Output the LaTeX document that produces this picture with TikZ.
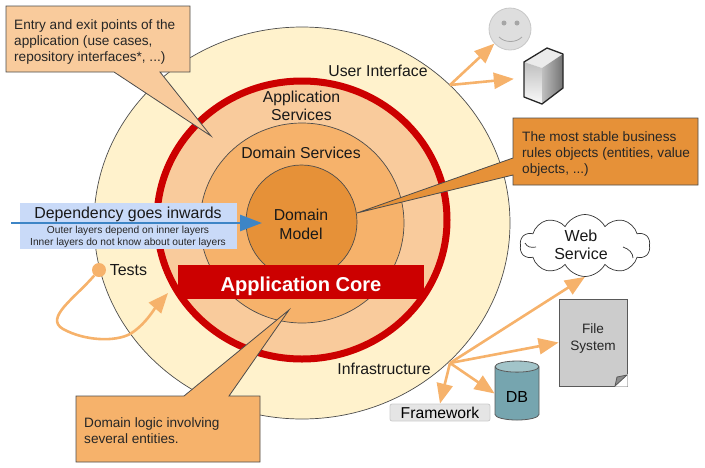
\documentclass[tikz,border=0pt]{standalone}
\usepackage{fontspec}
\setmainfont{Liberation Sans}
\usetikzlibrary{arrows.meta,shapes.geometric,shapes.symbols}
\definecolor{coreyellow}{HTML}{FFF2CC}
\definecolor{corepeach}{HTML}{F9CB9C}
\definecolor{coreorange}{HTML}{F6B26B}
\definecolor{coredark}{HTML}{E69138}
\definecolor{corered}{HTML}{CC0000}
\definecolor{noteblue}{HTML}{C9DAF8}
\definecolor{arrowblue}{HTML}{3D85C6}
\definecolor{dbteal}{HTML}{76A5AF}
\definecolor{dbtop}{HTML}{A2C4C9}
\begin{document}
\begin{tikzpicture}[
        x=1pt, y=-1pt,
        layer/.style={ellipse, draw=black!70, line width=0.7pt, inner sep=0pt},
        layer_label/.style={font=\fontsize{15.8}{18.5}\selectfont, align=center, text=black!90, inner sep=0pt},
        callout_box/.style={draw=black!70, line width=0.8pt},
        callout_text/.style={font=\fontsize{13.6}{16}\selectfont, align=left, anchor=west, inner sep=0pt, text=black!85},
        flow/.style={draw=coreorange, line width=2.6pt, -{Triangle[length=20pt,width=16pt]}},
        small_note/.style={font=\fontsize{10.2}{12}\selectfont, text=black!85, inner sep=0pt}
    ]
        \useasboundingbox (0,0) rectangle (705,467);

        % Concentric layers
        \node[layer, fill=coreyellow, minimum width=416pt, minimum height=392pt] (user_interface) at (302,223) {};
        \node[layer, draw=corered, line width=7pt, fill=corepeach, minimum width=290pt, minimum height=278pt] (app_services) at (302,220) {};
        \node[layer, fill=coreorange, minimum width=204pt, minimum height=200pt] (domain_services) at (302,223) {};
        \node[layer, fill=coredark, minimum width=111pt, minimum height=114pt] (domain_model) at (301.5,222) {};

        % Core band
        \node[fill=corered, minimum width=246pt, minimum height=34pt, inner sep=0pt, text=white,
              font=\fontsize{20.1}{22}\selectfont\bfseries, text height=19pt, text depth=0pt] (app_core) at (301,282) {Application Core};

        % Layer labels
        \node[layer_label] (ui_label) at (378,71) {User Interface};
        \node[layer_label] (as_label) at (301.5,106) {Application\\Services};
        \node[layer_label] (ds_label) at (301,153) {Domain Services};
        \node[layer_label, font=\fontsize{15.8}{19}\selectfont] (dm_label) at (301,224) {Domain\\Model};
        \node[layer_label] (inf_label) at (384,369) {Infrastructure};

        % Dependency note
        \node[fill=noteblue, minimum width=217pt, minimum height=46pt, inner sep=0pt] (dep_box) at (128.5,226) {};
        \node[font=\fontsize{15.9}{18}\selectfont, text=black!90, inner sep=0pt] (dep_title) at (128,214) {Dependency goes inwards};
        \node[small_note] (dep_outer) at (128,231) {Outer layers depend on inner layers};
        \node[small_note] (dep_inner) at (128,243) {Inner layers do not know about outer layers};
        \coordinate (dep_start) at (11,223);
        \coordinate (dep_end) at (262,223);
        \draw[draw=arrowblue, line width=2.8pt, -{Triangle[length=22pt,width=16pt]}] (dep_start) -- (dep_end);

        % Callouts
        \draw[callout_box, fill=corepeach] (6,6) -- (190,6) -- (190,72) -- (160,72) -- (211,136) -- (114,72) -- (6,72) -- cycle;
        \node[callout_text] (entry_note) at (14,41.5) {Entry and exit points of the\\application (use cases,\\repository interfaces*, ...)};
        \draw[callout_box, fill=coredark] (513,118) -- (698,118) -- (698,185) -- (513,185) -- (513,175) -- (357,213) -- (513,158) -- cycle;
        \node[callout_text] (stable_note) at (522,153.5) {The most stable business\\rules objects (entities, value\\objects, ...)};
        \draw[callout_box, fill=coreorange] (76,396) -- (184,396) -- (289,310) -- (229,396) -- (260,396) -- (260,462) -- (76,462) -- cycle;
        \node[callout_text] (logic_note) at (84,431) {Domain logic involving\\several entities.};

        % Tests
        \node[circle, fill=coreorange, minimum size=14pt, inner sep=0pt] (tests_dot) at (99,270) {};
        \node[font=\fontsize{16}{18}\selectfont, text=black!90, inner sep=0pt] (tests_label) at (128.5,270) {Tests};
        \coordinate (tests_end) at (168,293);
        \draw[flow] (tests_dot) .. controls (75,298) and (44,318) .. (63,329) .. controls (85,341) and (115,342) .. (130,334) .. controls (145,325) and (155,308) .. (tests_end);

        % User side actors
        \node[circle, draw=black!22, line width=0.8pt, fill=black!13, minimum size=42pt, inner sep=0pt] (smiley) at (510,29) {};
        \fill[black!35] (504,23) circle (2.5) (517,23) circle (2.5);
        \draw[black!35, line width=0.8pt] (499,37) .. controls (505,43) and (516,43) .. (522,37);
        \node[minimum width=39pt, minimum height=56pt, inner sep=0pt] (server) at (543.5,76) {};
        \fill[black!8] (524,62) -- (547,48) -- (563,54) -- (542,68) -- cycle;
        \shade[top color=black!25, bottom color=black!2] (524,62) -- (542,68) -- (542,104) -- (524,97) -- cycle;
        \shade[left color=black!25, right color=black!55] (542,68) -- (563,54) -- (563,88) -- (542,104) -- cycle;
        \draw[line width=1.3pt, black!85, line join=round] (524,62) -- (547,48) -- (563,54) -- (563,88) -- (542,104) -- (524,97) -- cycle;
        \coordinate (ui_from) at (450,85);
        \draw[flow] (ui_from) -- (smiley);
        \draw[flow, shorten >=10pt] (ui_from) -- (server);

        % Infrastructure side
        \node[cloud, draw=black!80, line width=0.7pt, fill=white, cloud puffs=10, cloud puff arc=125, aspect=2.1,
              minimum width=130pt, minimum height=62pt, inner sep=0pt] (web_service) at (585,245.5) {};
        \draw[black!80, line width=0.7pt] (525,243) .. controls (527,247) and (531,248) .. (536,247);
        \draw[black!80, line width=0.7pt] (623,247) .. controls (629,249) and (633,253) .. (633,258);
        \node[font=\fontsize{16}{18.5}\selectfont, align=center, inner sep=0pt, text=black!90] (web_label) at (581,245) {Web\\Service};
        \node[draw=black!65, line width=0.8pt, fill=black!20, minimum width=68pt, minimum height=87pt, inner sep=0pt] (file_system) at (593,342.5) {};
        \node[font=\fontsize{13.6}{17}\selectfont, align=center, inner sep=0pt, text=black!85] (file_label) at (593,338) {File\\System};
        \fill[white] (627.6,374) -- (627.6,386.6) -- (615,386.6) -- cycle;
        \draw[draw=black!65, line width=0.8pt, fill=black!45, line join=round] (615,386) -- (627,375) -- (617,377) -- cycle;
        \node[cylinder, shape border rotate=90, shape aspect=0.5, draw=black!65, line width=0.8pt, cylinder uses custom fill,
              cylinder body fill=dbteal, cylinder end fill=dbtop, minimum width=44pt, minimum height=59pt, inner sep=0pt,
              font=\fontsize{16}{18}\selectfont, text height=18.5pt, text depth=0pt] (db) at (517,393.5) {DB};
        \node[draw=black!20, line width=0.8pt, fill=black!10, rounded corners=2pt, minimum width=100pt, minimum height=17pt, inner sep=0pt,
              font=\fontsize{15.7}{17}\selectfont] (framework) at (440,412.5) {Framework};
        \coordinate (inf_from) at (450,363);
        \draw[flow] (inf_from) -- (web_service.south);
        \draw[flow] (inf_from) -- (file_system.west);
        \draw[flow] (inf_from) -- (framework.north);
        \draw[flow] (inf_from) -- (db.west);
\end{tikzpicture}
\end{document}
